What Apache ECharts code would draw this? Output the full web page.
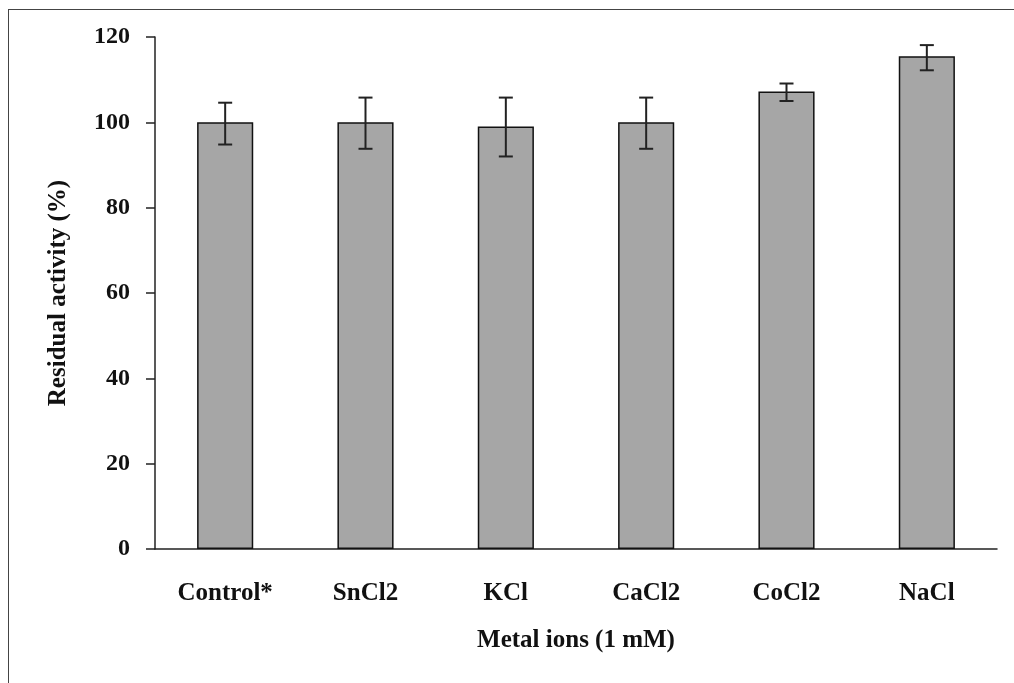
<!DOCTYPE html>
<html>
<head>
<meta charset="utf-8">
<script src="https://cdn.jsdelivr.net/npm/echarts@6/dist/echarts.min.js"></script>
<style>
  html, body { margin: 0; padding: 0; background: #fff; }
  #frame { position: absolute; left: 8px; top: 9px; width: 1006px; height: 674px;
           border-left: 1.5px solid #444; border-top: 1.5px solid #444; }
  #chart { position: absolute; left: 0; top: 0; width: 1014px; height: 683px; }
</style>
</head>
<body>
<div id="frame"></div>
<div id="chart"></div>
<script>
const categories = ["Control*", "SnCl2", "KCl", "CaCl2", "CoCl2", "NaCl"];
const activity = [100, 100, 99, 100, 107.2, 115.5];
const errLow = [94.8, 93.8, 92, 93.8, 105, 112.2];
const errHigh = [104.6, 105.8, 105.8, 105.8, 109.1, 118.1];
const yTicks = [0, 20, 40, 60, 80, 100, 120];

const font = "'Liberation Serif', 'DejaVu Serif', serif";
const chart = echarts.init(document.getElementById("chart"));

const errData = categories.map((_, i) => [i, errLow[i], errHigh[i]]);

chart.setOption({
  animation: false,
  grid: { left: 155, right: 17, top: 37, bottom: 134 },
  xAxis: {
    type: "category",
    data: categories,
    name: "Metal ions (1 mM)",
    nameLocation: "middle",
    nameGap: 79,
    nameTextStyle: { fontFamily: font, fontSize: 25, fontWeight: "bold", color: "#111" },
    axisLine: { lineStyle: { color: "#222", width: 1.5 } },
    axisTick: { length: 8, lineStyle: { color: "#222", width: 1.5 } },
    axisLabel: { margin: 32, fontFamily: font, fontSize: 25, fontWeight: "bold", color: "#111" },
  },
  yAxis: {
    type: "value",
    min: yTicks[0],
    max: yTicks[yTicks.length - 1],
    interval: 20,
    name: "Residual activity (%)",
    nameLocation: "middle",
    nameGap: 84,
    nameTextStyle: { fontFamily: font, fontSize: 25, fontWeight: "bold", color: "#111" },
    axisLine: { show: true, lineStyle: { color: "#222", width: 1.5 } },
    axisTick: { show: true, length: 9, lineStyle: { color: "#222", width: 1.5 } },
    axisLabel: { margin: 25, fontFamily: font, fontSize: 24, fontWeight: "bold", color: "#111" },
    splitLine: { show: false },
  },
  series: [
    {
      type: "bar",
      data: activity,
      barWidth: "40%",
      itemStyle: { color: "#a6a6a6", borderColor: "#111", borderWidth: 1.5 },
    },
    {
      type: "custom",
      z: 5,
      data: errData,
      renderItem: (params, api) => {
        const i = api.value(0);
        const lo = api.coord([i, api.value(1)]);
        const hi = api.coord([i, api.value(2)]);
        const cap = 7;
        const style = { stroke: "#222", lineWidth: 2 };
        return {
          type: "group",
          children: [
            { type: "line", shape: { x1: lo[0], y1: lo[1], x2: hi[0], y2: hi[1] }, style },
            { type: "line", shape: { x1: hi[0] - cap, y1: hi[1], x2: hi[0] + cap, y2: hi[1] }, style },
            { type: "line", shape: { x1: lo[0] - cap, y1: lo[1], x2: lo[0] + cap, y2: lo[1] }, style },
          ],
        };
      },
    },
  ],
});
</script>
</body>
</html>
